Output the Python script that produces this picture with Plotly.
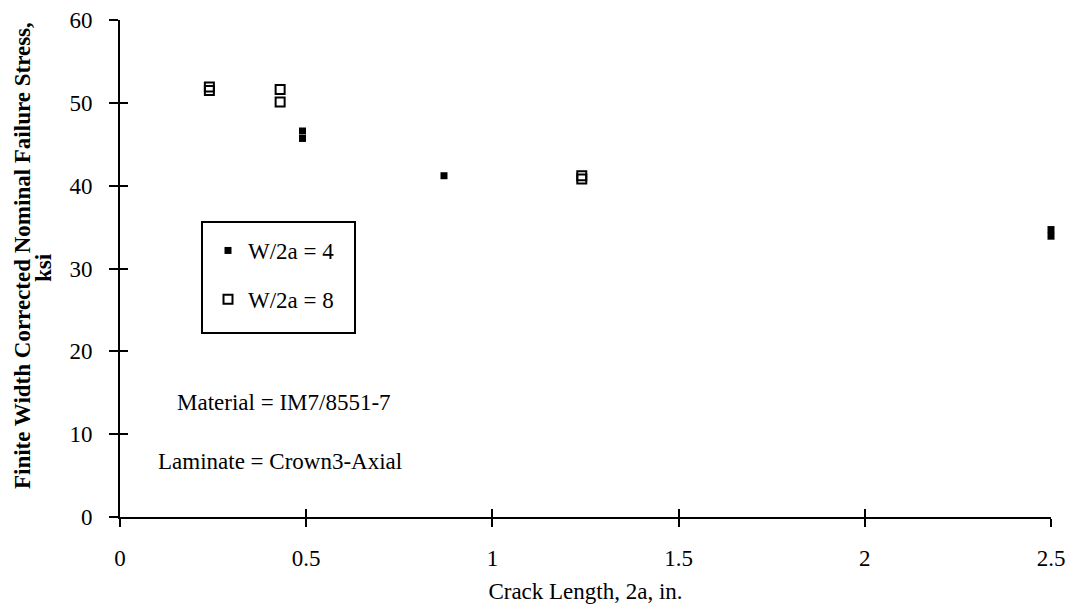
import plotly.graph_objects as go

# Data
w4_x = [0.49, 0.49, 0.87, 2.5, 2.5]
w4_y = [46.6, 45.7, 41.2, 34.7, 33.9]
w8_x = [0.24, 0.24, 0.43, 0.43, 1.24, 1.24]
w8_y = [51.9, 51.5, 51.6, 50.1, 41.2, 40.8]

x_ticks = [0, 0.5, 1, 1.5, 2, 2.5]
x_tick_text = ["0", "0.5", "1", "1.5", "2", "2.5"]
y_ticks = [0, 10, 20, 30, 40, 50, 60]

FONT = "Liberation Serif"
TICKF = dict(family=FONT, size=23, color="black")

L, R, T, B = 120, 18, 20, 91
W, H = 1069, 608
PW, PH = W - L - R, H - T - B


def px_x(px):
    return (px - L) / PW


def px_y(py):
    return (H - B - py) / PH


fig = go.Figure()
fig.add_trace(go.Scatter(
    x=w4_x, y=w4_y, mode="markers", name="W/2a = 4", legendgroup="a",
    marker=dict(symbol="square", size=7, color="black", line=dict(width=0)),
    cliponaxis=False))
fig.add_trace(go.Scatter(
    x=w8_x, y=w8_y, mode="markers", name="W/2a = 8", legendgroup="b",
    marker=dict(symbol="square-open", size=9, color="black", line=dict(width=2)),
    cliponaxis=False))
# empty trace so that the overlay axes (inner half of the crossing ticks) are drawn
fig.add_trace(go.Scatter(x=[None], y=[None], xaxis="x2", yaxis="y2",
                         showlegend=False, hoverinfo="skip"))

fig.add_annotation(x=px_x(175), y=13.8, xref="paper", yref="y", xanchor="left",
                   text="Material = IM7/8551-7",
                   showarrow=False, font=dict(family=FONT, size=23, color="black"))
fig.add_annotation(x=px_x(156), y=6.7, xref="paper", yref="y", xanchor="left",
                   text="Laminate = Crown3-Axial",
                   showarrow=False, font=dict(family=FONT, size=23, color="black"))

# Y axis title (two lines, rotated)
fig.add_annotation(x=px_x(22), y=px_y(256), xref="paper", yref="paper",
                   text="<b>Finite Width Corrected Nominal Failure Stress,</b>",
                   showarrow=False, textangle=-90, xanchor="center", yanchor="middle",
                   font=dict(family=FONT, size=23, color="black"))
fig.add_annotation(x=px_x(43), y=px_y(268), xref="paper", yref="paper", text="<b>ksi</b>",
                   showarrow=False, textangle=-90, xanchor="center", yanchor="middle",
                   font=dict(family=FONT, size=23, color="black"))

# legend frame
fig.add_shape(type="rect", xref="paper", yref="paper",
              x0=px_x(202), x1=px_x(355), y0=px_y(333), y1=px_y(222),
              line=dict(color="black", width=2), fillcolor="rgba(0,0,0,0)", layer="above")

fig.update_layout(
    width=W, height=H,
    margin=dict(l=L, r=R, t=T, b=B, autoexpand=False),
    paper_bgcolor="white", plot_bgcolor="white",
    font=dict(family=FONT, size=23, color="black"),
    showlegend=True,
    legend=dict(x=px_x(208), y=px_y(229), xanchor="left", yanchor="top",
                borderwidth=0, bgcolor="rgba(0,0,0,0)",
                traceorder="grouped", tracegroupgap=16,
                font=dict(family=FONT, size=23, color="black")),
    xaxis=dict(range=[0, 2.5], tickvals=x_ticks, ticktext=x_tick_text, automargin=False,
               showline=True, linecolor="black", linewidth=2, showgrid=False,
               zeroline=False, ticks="outside", ticklen=8, tickwidth=2,
               tickcolor="black", tickfont=TICKF, ticklabelstandoff=11,
               title=dict(text="Crack Length, 2a, in.", standoff=13,
                          font=dict(family=FONT, size=23))),
    yaxis=dict(range=[0, 60], tickvals=y_ticks, automargin=False,
               showline=True, linecolor="black", linewidth=2, showgrid=False,
               zeroline=False, ticks="outside", ticklen=9, tickwidth=2,
               tickcolor="black", tickfont=TICKF, ticklabelstandoff=12),
    # overlay axes to make the tick marks cross the axis lines
    xaxis2=dict(range=[0, 2.5], tickvals=x_ticks, overlaying="x", anchor="y", side="bottom",
                showticklabels=False, showline=False, showgrid=False, zeroline=False,
                ticks="inside", ticklen=8, tickwidth=2, tickcolor="black", automargin=False),
    yaxis2=dict(range=[0, 60], tickvals=y_ticks, overlaying="y", anchor="x", side="left",
                showticklabels=False, showline=False, showgrid=False, zeroline=False,
                ticks="inside", ticklen=8, tickwidth=2, tickcolor="black", automargin=False),
)

fig.write_html("out.html", config={"displayModeBar": False},
               post_script="document.body.style.margin='0px';")
